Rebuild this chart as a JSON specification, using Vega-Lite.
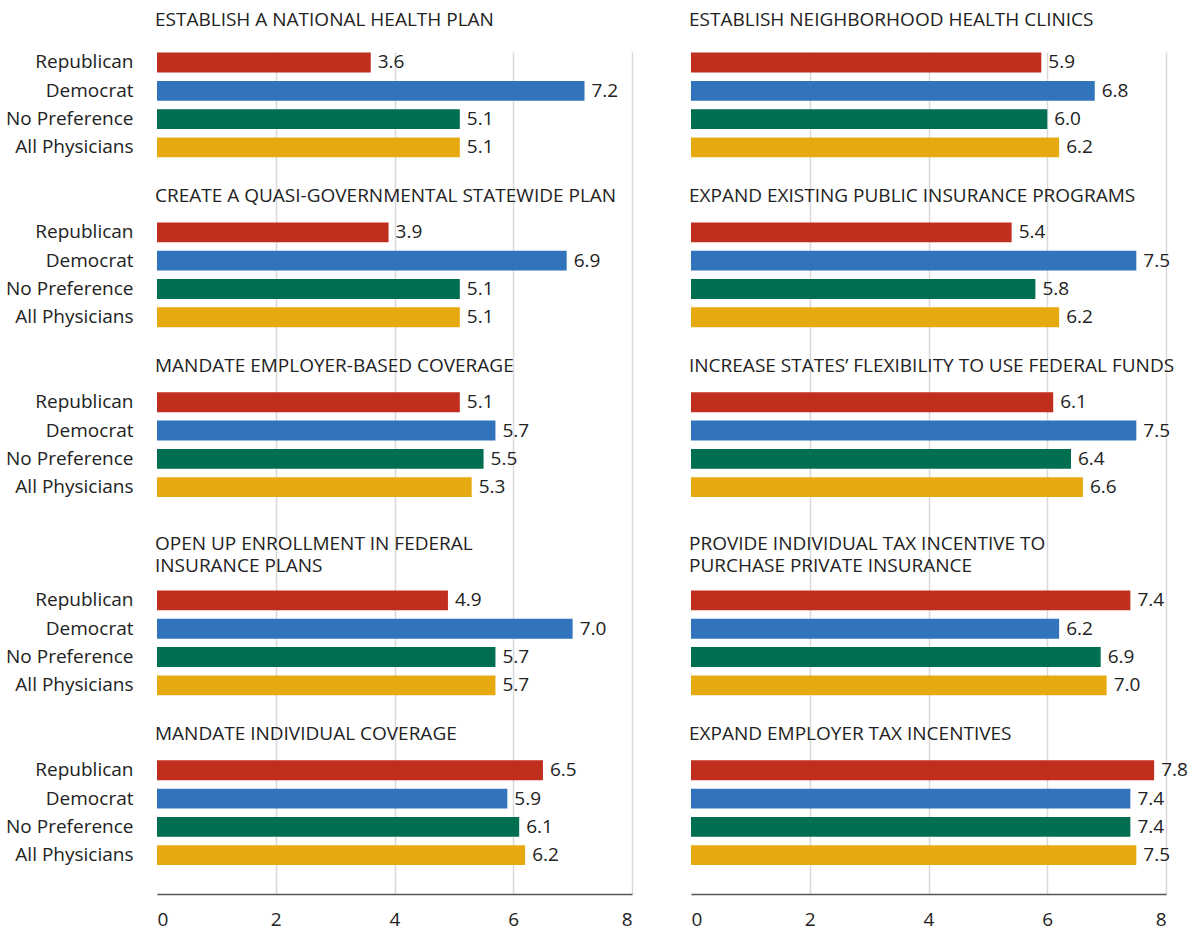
{
  "$schema": "https://vega.github.io/schema/vega-lite/v6.json",
  "background": "white",
  "padding": {"left": 5, "top": 11, "right": 5, "bottom": 5},
  "config": {
    "view": {"stroke": null},
    "font": "Open Sans",
    "text": {"font": "Open Sans"},
    "axis": {"labelFont": "Open Sans"},
    "title": {"font": "Open Sans"}
  },
  "datasets": {
    "bars": [
      {"side": "L", "q": 1, "cat": "Republican", "value": 3.6},
      {"side": "L", "q": 1, "cat": "Democrat", "value": 7.2},
      {"side": "L", "q": 1, "cat": "No Preference", "value": 5.1},
      {"side": "L", "q": 1, "cat": "All Physicians", "value": 5.1},
      {"side": "L", "q": 2, "cat": "Republican", "value": 3.9},
      {"side": "L", "q": 2, "cat": "Democrat", "value": 6.9},
      {"side": "L", "q": 2, "cat": "No Preference", "value": 5.1},
      {"side": "L", "q": 2, "cat": "All Physicians", "value": 5.1},
      {"side": "L", "q": 3, "cat": "Republican", "value": 5.1},
      {"side": "L", "q": 3, "cat": "Democrat", "value": 5.7},
      {"side": "L", "q": 3, "cat": "No Preference", "value": 5.5},
      {"side": "L", "q": 3, "cat": "All Physicians", "value": 5.3},
      {"side": "L", "q": 4, "cat": "Republican", "value": 4.9},
      {"side": "L", "q": 4, "cat": "Democrat", "value": 7.0},
      {"side": "L", "q": 4, "cat": "No Preference", "value": 5.7},
      {"side": "L", "q": 4, "cat": "All Physicians", "value": 5.7},
      {"side": "L", "q": 5, "cat": "Republican", "value": 6.5},
      {"side": "L", "q": 5, "cat": "Democrat", "value": 5.9},
      {"side": "L", "q": 5, "cat": "No Preference", "value": 6.1},
      {"side": "L", "q": 5, "cat": "All Physicians", "value": 6.2},
      {"side": "R", "q": 1, "cat": "Republican", "value": 5.9},
      {"side": "R", "q": 1, "cat": "Democrat", "value": 6.8},
      {"side": "R", "q": 1, "cat": "No Preference", "value": 6.0},
      {"side": "R", "q": 1, "cat": "All Physicians", "value": 6.2},
      {"side": "R", "q": 2, "cat": "Republican", "value": 5.4},
      {"side": "R", "q": 2, "cat": "Democrat", "value": 7.5},
      {"side": "R", "q": 2, "cat": "No Preference", "value": 5.8},
      {"side": "R", "q": 2, "cat": "All Physicians", "value": 6.2},
      {"side": "R", "q": 3, "cat": "Republican", "value": 6.1},
      {"side": "R", "q": 3, "cat": "Democrat", "value": 7.5},
      {"side": "R", "q": 3, "cat": "No Preference", "value": 6.4},
      {"side": "R", "q": 3, "cat": "All Physicians", "value": 6.6},
      {"side": "R", "q": 4, "cat": "Republican", "value": 7.4},
      {"side": "R", "q": 4, "cat": "Democrat", "value": 6.2},
      {"side": "R", "q": 4, "cat": "No Preference", "value": 6.9},
      {"side": "R", "q": 4, "cat": "All Physicians", "value": 7.0},
      {"side": "R", "q": 5, "cat": "Republican", "value": 7.8},
      {"side": "R", "q": 5, "cat": "Democrat", "value": 7.4},
      {"side": "R", "q": 5, "cat": "No Preference", "value": 7.4},
      {"side": "R", "q": 5, "cat": "All Physicians", "value": 7.5}
    ],
    "titles": [
      {"side": "L", "q": 1, "title": "ESTABLISH A NATIONAL HEALTH PLAN"},
      {"side": "L", "q": 2, "title": "CREATE A QUASI-GOVERNMENTAL STATEWIDE PLAN"},
      {"side": "L", "q": 3, "title": "MANDATE EMPLOYER-BASED COVERAGE"},
      {"side": "L", "q": 4, "title": "OPEN UP ENROLLMENT IN FEDERAL\nINSURANCE PLANS"},
      {"side": "L", "q": 5, "title": "MANDATE INDIVIDUAL COVERAGE"},
      {"side": "R", "q": 1, "title": "ESTABLISH NEIGHBORHOOD HEALTH CLINICS"},
      {"side": "R", "q": 2, "title": "EXPAND EXISTING PUBLIC INSURANCE PROGRAMS"},
      {"side": "R", "q": 3, "title": "INCREASE STATES’ FLEXIBILITY TO USE FEDERAL FUNDS"},
      {"side": "R", "q": 4, "title": "PROVIDE INDIVIDUAL TAX INCENTIVE TO\nPURCHASE PRIVATE INSURANCE"},
      {"side": "R", "q": 5, "title": "EXPAND EMPLOYER TAX INCENTIVES"}
    ]
  },
  "spacing": 59,
  "bounds": "flush",
  "hconcat": [
    {
      "title": {"text": "ESTABLISH A NATIONAL HEALTH PLAN", "anchor": "start", "frame": "group", "fontSize": 19, "fontWeight": "normal", "color": "#222", "offset": 22, "dx": -2},
      "width": 475,
      "height": 842,
      "encoding": {
        "y": {
          "field": "row", "type": "ordinal",
          "scale": {
            "domain": ["1|Republican", "1|Democrat", "1|No Preference", "1|All Physicians",
                       "2|g", "2|t", "2|Republican", "2|Democrat", "2|No Preference", "2|All Physicians",
                       "3|g", "3|t", "3|Republican", "3|Democrat", "3|No Preference", "3|All Physicians",
                       "4|g", "4|h", "4|t", "4|Republican", "4|Democrat", "4|No Preference", "4|All Physicians",
                       "5|g", "5|t", "5|Republican", "5|Democrat", "5|No Preference", "5|All Physicians", "5|z"],
            "paddingInner": 0.3, "paddingOuter": 0.02
          },
          "axis": {
            "title": null, "ticks": false, "domain": false, "grid": false,
            "labelFontSize": 19, "labelColor": "#222", "labelPadding": 24,
            "labelExpr": "length(split(datum.value, '|')[1]) > 1 ? split(datum.value, '|')[1] : ''"
          }
        }
      },
      "layer": [
        {
          "data": {"name": "bars"},
          "transform": [{"filter": "datum.side === 'L'"}, {"calculate": "datum.q + '|' + datum.cat", "as": "row"}],
          "mark": {"type": "bar"},
          "encoding": {
            "x": {
              "field": "value", "type": "quantitative",
              "scale": {"domain": [0, 8], "nice": false},
              "axis": {
                "title": null, "values": [0, 2, 4, 6, 8], "format": "d", "ticks": false,
                "domain": true, "domainColor": "#555", "domainWidth": 1.5,
                "grid": true, "gridColor": "#d9d9d9", "gridWidth": 1.5,
                "gridOpacity": {"condition": {"test": "datum.value === 0", "value": 0}, "value": 1},
                "labelFontSize": 19, "labelColor": "#222", "labelPadding": 16
              }
            },
            "color": {
              "field": "cat", "type": "nominal",
              "scale": {"domain": ["Republican", "Democrat", "No Preference", "All Physicians"], "range": ["#c02e1d", "#3174bb", "#006f51", "#e6aa10"]},
              "legend": null
            }
          }
        },
        {
          "data": {"name": "bars"},
          "transform": [{"filter": "datum.side === 'L'"}, {"calculate": "datum.q + '|' + datum.cat", "as": "row"}],
          "mark": {"type": "text", "align": "left", "baseline": "middle", "dx": 7, "fontSize": 19, "color": "#222"},
          "encoding": {
            "x": {"field": "value", "type": "quantitative"},
            "text": {"field": "value", "type": "quantitative", "format": ".1f"}
          }
        },
        {
          "data": {"name": "titles"},
          "transform": [{"filter": "datum.side === 'L' && datum.q > 1 && indexof(datum.title, '\\n') < 0"}, {"calculate": "datum.q + '|t'", "as": "row"}],
          "mark": {"type": "text", "align": "left", "baseline": "bottom", "dx": -2, "dy": 2, "fontSize": 19, "lineBreak": "\n", "lineHeight": 22, "color": "#222"},
          "encoding": {
            "x": {"datum": 0, "type": "quantitative"},
            "text": {"field": "title", "type": "nominal"}
          }
        },
        {
          "data": {"name": "titles"},
          "transform": [{"filter": "datum.side === 'L' && datum.q > 1 && indexof(datum.title, '\\n') >= 0"}, {"calculate": "datum.q + '|t'", "as": "row"}],
          "mark": {"type": "text", "align": "left", "baseline": "bottom", "dx": -2, "dy": -18, "fontSize": 19, "lineBreak": "\n", "lineHeight": 22, "color": "#222"},
          "encoding": {
            "x": {"datum": 0, "type": "quantitative"},
            "text": {"field": "title", "type": "nominal"}
          }
        }
      ]
    },
    {
      "title": {"text": "ESTABLISH NEIGHBORHOOD HEALTH CLINICS", "anchor": "start", "frame": "group", "fontSize": 19, "fontWeight": "normal", "color": "#222", "offset": 22, "dx": -2},
      "width": 475,
      "height": 842,
      "encoding": {
        "y": {
          "field": "row", "type": "ordinal",
          "scale": {
            "domain": ["1|Republican", "1|Democrat", "1|No Preference", "1|All Physicians",
                       "2|g", "2|t", "2|Republican", "2|Democrat", "2|No Preference", "2|All Physicians",
                       "3|g", "3|t", "3|Republican", "3|Democrat", "3|No Preference", "3|All Physicians",
                       "4|g", "4|h", "4|t", "4|Republican", "4|Democrat", "4|No Preference", "4|All Physicians",
                       "5|g", "5|t", "5|Republican", "5|Democrat", "5|No Preference", "5|All Physicians", "5|z"],
            "paddingInner": 0.3, "paddingOuter": 0.02
          },
          "axis": null
        }
      },
      "layer": [
        {
          "data": {"name": "bars"},
          "transform": [{"filter": "datum.side === 'R'"}, {"calculate": "datum.q + '|' + datum.cat", "as": "row"}],
          "mark": {"type": "bar"},
          "encoding": {
            "x": {
              "field": "value", "type": "quantitative",
              "scale": {"domain": [0, 8], "nice": false},
              "axis": {
                "title": null, "values": [0, 2, 4, 6, 8], "format": "d", "ticks": false,
                "domain": true, "domainColor": "#555", "domainWidth": 1.5,
                "grid": true, "gridColor": "#d9d9d9", "gridWidth": 1.5,
                "gridOpacity": {"condition": {"test": "datum.value === 0", "value": 0}, "value": 1},
                "labelFontSize": 19, "labelColor": "#222", "labelPadding": 16
              }
            },
            "color": {
              "field": "cat", "type": "nominal",
              "scale": {"domain": ["Republican", "Democrat", "No Preference", "All Physicians"], "range": ["#c02e1d", "#3174bb", "#006f51", "#e6aa10"]},
              "legend": null
            }
          }
        },
        {
          "data": {"name": "bars"},
          "transform": [{"filter": "datum.side === 'R'"}, {"calculate": "datum.q + '|' + datum.cat", "as": "row"}],
          "mark": {"type": "text", "align": "left", "baseline": "middle", "dx": 7, "fontSize": 19, "color": "#222"},
          "encoding": {
            "x": {"field": "value", "type": "quantitative"},
            "text": {"field": "value", "type": "quantitative", "format": ".1f"}
          }
        },
        {
          "data": {"name": "titles"},
          "transform": [{"filter": "datum.side === 'R' && datum.q > 1 && indexof(datum.title, '\\n') < 0"}, {"calculate": "datum.q + '|t'", "as": "row"}],
          "mark": {"type": "text", "align": "left", "baseline": "bottom", "dx": -2, "dy": 2, "fontSize": 19, "lineBreak": "\n", "lineHeight": 22, "color": "#222"},
          "encoding": {
            "x": {"datum": 0, "type": "quantitative"},
            "text": {"field": "title", "type": "nominal"}
          }
        },
        {
          "data": {"name": "titles"},
          "transform": [{"filter": "datum.side === 'R' && datum.q > 1 && indexof(datum.title, '\\n') >= 0"}, {"calculate": "datum.q + '|t'", "as": "row"}],
          "mark": {"type": "text", "align": "left", "baseline": "bottom", "dx": -2, "dy": -18, "fontSize": 19, "lineBreak": "\n", "lineHeight": 22, "color": "#222"},
          "encoding": {
            "x": {"datum": 0, "type": "quantitative"},
            "text": {"field": "title", "type": "nominal"}
          }
        }
      ]
    }
  ]
}
